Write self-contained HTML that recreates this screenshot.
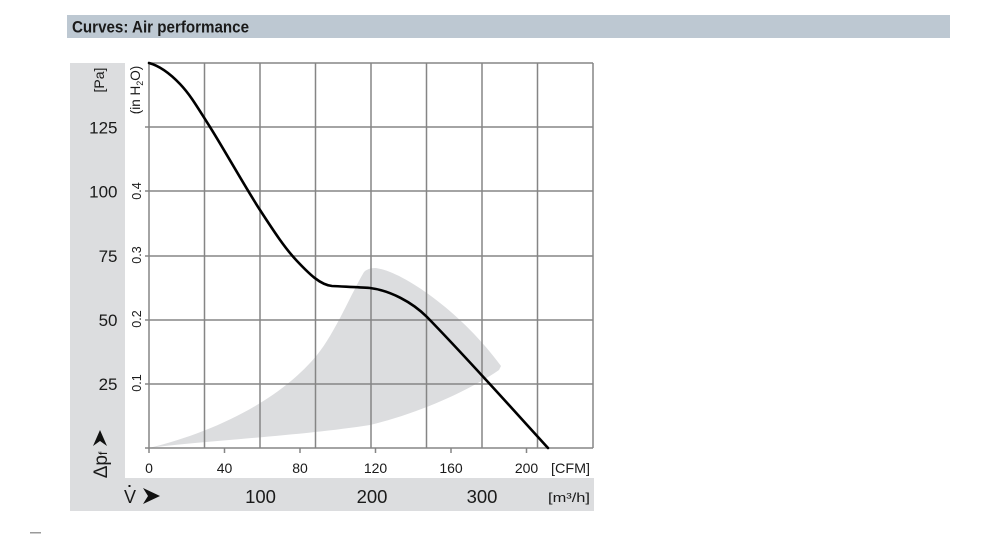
<!DOCTYPE html>
<html>
<head>
<meta charset="utf-8">
<style>
  html, body { margin: 0; padding: 0; background: #ffffff; }
  body { width: 1000px; height: 536px; overflow: hidden; }
  svg { display: block; }
  text { font-family: "Liberation Sans", Arial, sans-serif; fill: #1a1a1a; }
</style>
</head>
<body>
<svg width="1000" height="536" viewBox="0 0 1000 536" xmlns="http://www.w3.org/2000/svg">
  <!-- header bar -->
  <rect x="67" y="15" width="883" height="23" fill="#bdc8d2"/>
  <text x="72" y="32.5" font-size="17" font-weight="bold" textLength="177" lengthAdjust="spacingAndGlyphs">Curves: Air performance</text>

  <!-- gray panel -->
  <rect x="70" y="63" width="55" height="448" fill="#dcdddf"/>
  <rect x="70" y="478" width="524" height="33" fill="#dcdddf"/>

  <!-- shaded operating region -->
  <path fill="#dcdddf" d="M149,448 C215,432 280,400 317,355 C335,333 352,292 364,272 Q368,268 375,268 C400,270 460,310 501,366 L499,370 C470,390 420,413 370,425 C300,436 200,441 149,448 Z"/>

  <!-- grid -->
  <g stroke="#858585" stroke-width="1.5" fill="none">
    <line x1="149" y1="63" x2="149" y2="453"/>
    <line x1="204.5" y1="63" x2="204.5" y2="448"/>
    <line x1="260" y1="63" x2="260" y2="448"/>
    <line x1="315.5" y1="63" x2="315.5" y2="448"/>
    <line x1="371" y1="63" x2="371" y2="448"/>
    <line x1="426.5" y1="63" x2="426.5" y2="448"/>
    <line x1="482" y1="63" x2="482" y2="448"/>
    <line x1="537.5" y1="63" x2="537.5" y2="448"/>
    <line x1="593" y1="63" x2="593" y2="448"/>

    <line x1="149" y1="63" x2="593" y2="63"/>
    <line x1="145" y1="127" x2="593" y2="127"/>
    <line x1="145" y1="191" x2="593" y2="191"/>
    <line x1="145" y1="256" x2="593" y2="256"/>
    <line x1="145" y1="320" x2="593" y2="320"/>
    <line x1="145" y1="384" x2="593" y2="384"/>
    <line x1="145" y1="448" x2="593" y2="448"/>

    <!-- CFM ticks -->
    <line x1="224.5" y1="448" x2="224.5" y2="453"/>
    <line x1="300" y1="448" x2="300" y2="453"/>
    <line x1="375.5" y1="448" x2="375.5" y2="453"/>
    <line x1="451" y1="448" x2="451" y2="453"/>
    <line x1="526.5" y1="448" x2="526.5" y2="453"/>
  </g>

  <!-- performance curve -->
  <path fill="none" stroke="#000" stroke-width="2.6" stroke-linecap="round"
    d="M149,63 C160,66 169.8,73.3 180,84 C190.2,94.7 196.7,106 210,127 C223.3,148 245.5,187.7 260,210 C274.5,232.3 285,248.3 297,261 C309,273.7 320,284.8 332,286 C345,286.7 358,287.2 370,288 C390,290.5 412,302 427,317 C467,358 507,403 548,448"/>

  <!-- left axis labels -->
  <text transform="translate(104,80) rotate(-90)" font-size="14" text-anchor="middle">[Pa]</text>
  <text transform="translate(140,90) rotate(-90)" font-size="13.5" text-anchor="middle">(in H<tspan font-size="9" dy="3">2</tspan><tspan dy="-3">O)</tspan></text>

  <g font-size="17" text-anchor="end">
    <text x="117.5" y="133.5">125</text>
    <text x="117.5" y="197.5">100</text>
    <text x="117.5" y="262">75</text>
    <text x="117.5" y="326">50</text>
    <text x="117.5" y="390">25</text>
  </g>

  <g font-size="12.5" text-anchor="middle">
    <text transform="translate(141,191) rotate(-90)">0.4</text>
    <text transform="translate(141,255) rotate(-90)">0.3</text>
    <text transform="translate(141,319) rotate(-90)">0.2</text>
    <text transform="translate(141,383) rotate(-90)">0.1</text>
  </g>

  <!-- Δpf arrow -->
  <text transform="translate(107,465) rotate(-90)" font-size="19" text-anchor="middle">Δp<tspan font-size="12">f</tspan></text>
  <path d="M93,446 L100,430 L107,446 L100,441 Z" fill="#111"/>

  <!-- CFM labels -->
  <g font-size="14" text-anchor="middle">
    <text x="149" y="473">0</text>
    <text x="224.5" y="473">40</text>
    <text x="300" y="473">80</text>
    <text x="375.5" y="473">120</text>
    <text x="451" y="473">160</text>
    <text x="526.5" y="473">200</text>
  </g>
  <text x="551" y="473" font-size="14" textLength="39" lengthAdjust="spacingAndGlyphs">[CFM]</text>

  <!-- V arrow -->
  <text x="124" y="503" font-size="18">V</text>
  <rect x="128.5" y="485" width="2" height="2" fill="#111"/>
  <path d="M143,488 L160,496 L143,504 L148,496 Z" fill="#111"/>

  <!-- m3/h labels -->
  <g font-size="18.5" text-anchor="middle">
    <text x="260.5" y="503">100</text>
    <text x="372" y="503">200</text>
    <text x="482" y="503">300</text>
  </g>
  <text x="548" y="502" font-size="13" textLength="42" lengthAdjust="spacingAndGlyphs">[m³/h]</text>

  <!-- small dash bottom-left -->
  <rect x="30" y="532" width="11" height="1.5" fill="#9a9a9a"/>
</svg>
</body>
</html>
